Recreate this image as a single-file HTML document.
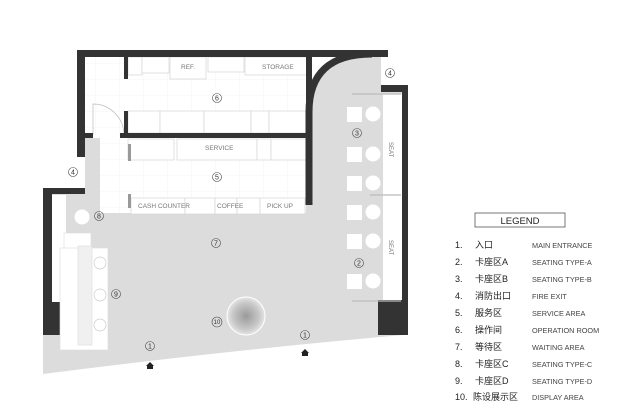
<!DOCTYPE html>
<html><head><meta charset="utf-8"><style>
html,body{margin:0;padding:0;background:#fff;}
svg{display:block;font-family:"Liberation Sans","Noto Sans CJK SC",sans-serif;}
</style></head><body>
<svg width="640" height="405" viewBox="0 0 640 405" xmlns="http://www.w3.org/2000/svg">
<defs>
<radialGradient id="g" cx="50%" cy="50%" r="50%"><stop offset="0" stop-color="#9a9a9a"/><stop offset="0.7" stop-color="#c8c8c8"/><stop offset="1" stop-color="#e6e6e6"/></radialGradient>
<pattern id="tile" width="24" height="16" patternUnits="userSpaceOnUse"><rect width="24" height="16" fill="#fff"/><path d="M24 0V16M0 16H24" stroke="#ececec" stroke-width="0.6" fill="none"/></pattern>
</defs>
<!-- floor -->
<path d="M85 138 H312 V110 Q312 57 370 57 H381 V92 H403 V335 Q230 350 43 374 V194 H85 Z" fill="#dcdcdc"/>
<!-- kitchen interior -->
<rect x="84" y="57" width="223" height="78" fill="url(#tile)"/>
<!-- service area -->
<rect x="100" y="138" width="206" height="75" fill="url(#tile)"/>
<!-- kitchen furniture -->
<g fill="#fff" stroke="#d6d6d6" stroke-width="0.7">
<rect x="128" y="57" width="14" height="18"/><rect x="142" y="57" width="27" height="16"/><rect x="170" y="57" width="36" height="22"/><rect x="208" y="57" width="36" height="15"/><rect x="245" y="57" width="62" height="18"/>
<rect x="128" y="111" width="32" height="22"/><rect x="160" y="111" width="44" height="22"/><rect x="204" y="111" width="47" height="22"/><rect x="251" y="111" width="18" height="22"/><rect x="269" y="111" width="38" height="22"/>
<rect x="128" y="139" width="46" height="21"/><rect x="177" y="139" width="80" height="21"/><rect x="257" y="139" width="14" height="21"/><rect x="271" y="139" width="35" height="21"/>
<rect x="131" y="198" width="54" height="16"/><rect x="185" y="198" width="30" height="16"/><rect x="215" y="198" width="22" height="16"/><rect x="237" y="198" width="23" height="16"/><rect x="260" y="198" width="45" height="16"/>
</g>
<rect x="128" y="144" width="3" height="17" fill="#999"/><rect x="128" y="194" width="3" height="14" fill="#999"/>
<path d="M93 135 V104 A31 31 0 0 1 124 135" fill="none" stroke="#bbb" stroke-width="0.7"/>
<g font-size="6.5" fill="#777">
<text x="181" y="69">REF.</text><text x="262" y="69">STORAGE</text><text x="205" y="150">SERVICE</text>
<text x="138" y="208">CASH COUNTER</text><text x="217" y="208">COFFEE</text><text x="267" y="208">PICK UP</text>
</g>
<!-- walls -->
<g fill="#333">
<rect x="77" y="50" width="311" height="7"/>
<rect x="77" y="50" width="8" height="107"/>
<rect x="124" y="57" width="4" height="22"/><rect x="124" y="111" width="4" height="22"/>
<rect x="120" y="133" width="188" height="5"/><rect x="77" y="133" width="16" height="5"/>
<rect x="306" y="50" width="6" height="155"/>
<rect x="381" y="85" width="27" height="7"/><rect x="402" y="85" width="6" height="250"/>
<rect x="378" y="300" width="30" height="35"/>
<rect x="43" y="188" width="42" height="6"/><rect x="43" y="188" width="9" height="147"/>
<rect x="43" y="302" width="32" height="33"/>
</g>
<path d="M309 205 V112 Q309 54 372 54" fill="none" stroke="#333" stroke-width="7"/>
<!-- right seating -->
<rect x="383" y="94" width="19" height="206" fill="#fff"/>
<g stroke="#bbb" stroke-width="1.2"><path d="M352 94 H401 M370 195 H401 M352 301 H401"/></g>
<g fill="#fff">
<rect x="347" y="107" width="15" height="15"/><rect x="347" y="147" width="15" height="15"/><rect x="347" y="176" width="15" height="15"/><rect x="347" y="205" width="15" height="15"/><rect x="347" y="234" width="15" height="15"/><rect x="347" y="274" width="15" height="15"/>
<circle cx="373" cy="114" r="7.5"/><circle cx="373" cy="154" r="7.5"/><circle cx="373" cy="183" r="7.5"/><circle cx="373" cy="212" r="7.5"/><circle cx="373" cy="241" r="7.5"/><circle cx="373" cy="281" r="7.5"/>
</g>
<g font-size="6" fill="#777"><text transform="translate(389,142) rotate(90)">SEAT</text><text transform="translate(389,240) rotate(90)">SEAT</text><text transform="translate(62,220) rotate(-90)">SEAT</text></g>
<!-- left seating -->
<rect x="52" y="195" width="14" height="107" fill="#fff"/>
<circle cx="82" cy="217" r="7.5" fill="#fff"/>
<rect x="64" y="233" width="27" height="16" fill="#fff" stroke="#ddd" stroke-width="0.6"/>
<rect x="60" y="248" width="48" height="102" fill="#fff" stroke="#ddd" stroke-width="0.6"/>
<rect x="78" y="246" width="14" height="99" fill="#f0f0f0" stroke="#ddd" stroke-width="0.6"/>
<g fill="#fff" stroke="#ccc" stroke-width="0.7"><circle cx="100" cy="263" r="6"/><circle cx="100" cy="295" r="6"/><circle cx="100" cy="325" r="6"/></g>
<!-- display -->
<circle cx="246" cy="316" r="19" fill="url(#g)" stroke="#fff" stroke-width="1"/>
<!-- circled numbers -->
<g font-size="7" fill="#333" text-anchor="middle">
<g fill="none" stroke="#444" stroke-width="0.6">
<circle cx="217" cy="98" r="4.5"/><circle cx="217" cy="177" r="4.5"/><circle cx="216" cy="243" r="4.5"/><circle cx="357" cy="133" r="4.5"/><circle cx="359" cy="263" r="4.5"/><circle cx="99" cy="216" r="4.5"/><circle cx="116" cy="294" r="4.5"/><circle cx="217" cy="322" r="5"/><circle cx="150" cy="346" r="4.5"/><circle cx="305" cy="335" r="4.5"/><circle cx="390" cy="73" r="4.5"/><circle cx="73" cy="172" r="4.5"/>
</g>
<text x="217" y="100.5">6</text><text x="217" y="179.5">5</text><text x="216" y="245.5">7</text><text x="357" y="135.5">3</text><text x="359" y="265.5">2</text><text x="99" y="218.5">8</text><text x="116" y="296.5">9</text><text x="217" y="324" font-size="6">10</text><text x="150" y="348.5">1</text><text x="305" y="337.5">1</text><text x="390" y="75.5">4</text><text x="73" y="174.5">4</text>
</g>
<g fill="#222"><path d="M146 366 L150 362 L154 366 Z"/><rect x="147" y="366" width="6" height="3"/><path d="M301 353 L305 349 L309 353 Z"/><rect x="302" y="353" width="6" height="3"/></g>
<!-- legend -->
<rect x="475" y="213" width="90" height="14" fill="#fff" stroke="#555" stroke-width="0.8"/>
<text x="520" y="224" font-size="9.5" text-anchor="middle" fill="#222">LEGEND</text>
<g font-size="9" fill="#222">
<text x="455" y="248">1.</text><text x="475" y="248">入口</text>
<text x="455" y="265">2.</text><text x="475" y="265">卡座区A</text>
<text x="455" y="282">3.</text><text x="475" y="282">卡座区B</text>
<text x="455" y="299">4.</text><text x="475" y="299">消防出口</text>
<text x="455" y="316">5.</text><text x="475" y="316">服务区</text>
<text x="455" y="333">6.</text><text x="475" y="333">操作间</text>
<text x="455" y="350">7.</text><text x="475" y="350">等待区</text>
<text x="455" y="367">8.</text><text x="475" y="367">卡座区C</text>
<text x="455" y="384">9.</text><text x="475" y="384">卡座区D</text>
<text x="455" y="400">10.</text><text x="473" y="400">陈设展示区</text>
</g>
<g font-size="7.3" fill="#444">
<text x="532" y="248">MAIN ENTRANCE</text><text x="532" y="265">SEATING TYPE-A</text><text x="532" y="282">SEATING TYPE-B</text><text x="532" y="299">FIRE EXIT</text><text x="532" y="316">SERVICE AREA</text><text x="532" y="333">OPERATION ROOM</text><text x="532" y="350">WAITING AREA</text><text x="532" y="367">SEATING TYPE-C</text><text x="532" y="384">SEATING TYPE-D</text><text x="532" y="400">DISPLAY AREA</text>
</g>
</svg>
</body></html>
